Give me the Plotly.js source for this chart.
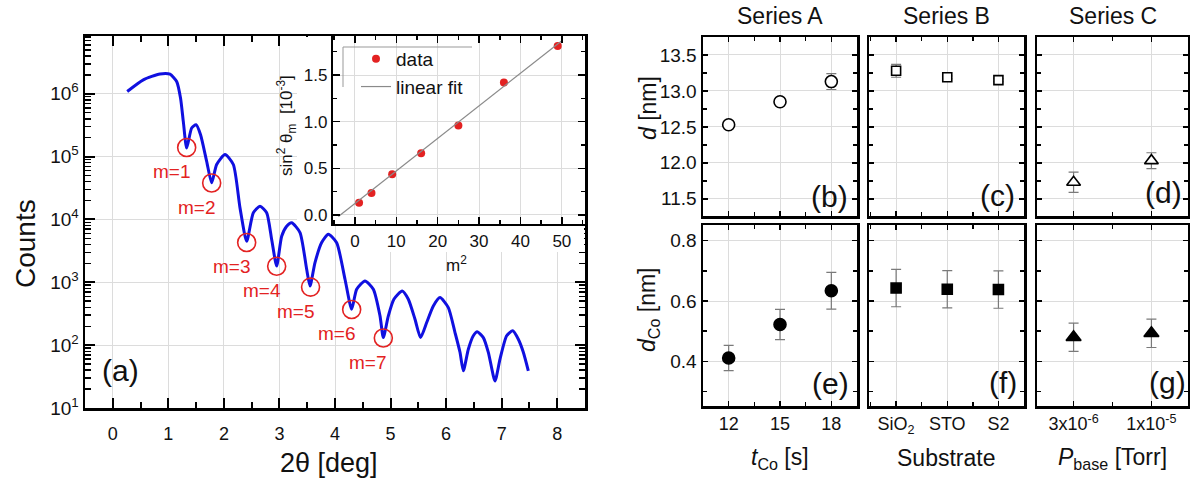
<!DOCTYPE html>
<html>
<head>
<meta charset="utf-8">
<script src="https://cdn.plot.ly/plotly-3.0.1.min.js"></script>
<style>html,body{margin:0;padding:0;background:#fff;}#chart{width:1190px;height:481px;}</style>
</head>
<body>
<div id="chart"></div>
<script>
// ---------- DATA ----------
// (a) reflectivity curve
const twoTheta = [0.26,0.55,0.85,1.03,1.15,1.22,1.27,1.33,1.42,1.50,1.58,1.69,1.78,1.87,2.02,2.17,2.29,2.41,2.53,2.65,2.77,2.86,2.95,3.04,3.13,3.22,3.37,3.49,3.55,3.64,3.76,3.88,4.03,4.18,4.30,4.39,4.54,4.69,4.81,4.87,4.96,5.06,5.21,5.32,5.44,5.54,5.65,5.77,5.89,6.04,6.16,6.25,6.31,6.40,6.49,6.56,6.67,6.76,6.88,6.97,7.09,7.20,7.30,7.39,7.48];
const counts = [1.09e6,1.67e6,2.07e6,2.05e6,1.57e6,8.5e5,3.6e5,1.37e5,2.86e5,3.22e5,2.23e5,8.4e4,3.83e4,7.5e4,1.08e5,7.5e4,1.53e4,4.5e3,1.28e4,1.63e4,1.28e4,4.8e3,1.82e3,5.4e3,7.8e3,8.9e3,6.2e3,1.61e3,873,2.06e3,4.3e3,5.8e3,4.26e3,1.12e3,373,774,1.05e3,774,292,132,292,537,728,537,259,132,229,421,571,396,159,77,39,86,141,163,132,77,27,60,141,169,124,77,39];
// fringe minima (circled)
const minLabels = ['m=1','m=2','m=3','m=4','m=5','m=6','m=7'];
const minTheta = [1.33,1.78,2.41,2.95,3.56,4.30,4.87];
const minCounts = [1.4e5,3.8e4,4.3e3,1.8e3,840,370,130];
// inset
const mSquared = [1,4,9,16,25,36,49];
const sin2Theta = [0.13,0.235,0.436,0.66,0.96,1.42,1.81];
const fitSlope = 0.0349, fitIntercept = 0.123, fitRange = [-4, 50];
// right panels
const tCo = [12,15,18];
const dA = [12.53,12.85,13.13], dAerr = [0.02,0.02,0.11];
const dCoA = [0.411,0.522,0.634], dCoAerr = [0.042,0.05,0.061];
const substrates = ['SiO<sub>2</sub>','STO','S2'];
const dB = [13.28,13.19,13.15], dBerr = [0.09,0.02,0.02];
const dCoB = [0.643,0.639,0.638], dCoBerr = [0.062,0.062,0.062];
const pBase = ['3x10<sup>-6</sup>','1x10<sup>-5</sup>'];
const dC = [11.73,12.03], dCerr = [0.14,0.11];
const dCoC = [0.480,0.493], dCoCerr = [0.047,0.047];
const decadeTicks = [1,2,3,4,5,6];

// ---------- LAYOUT HELPERS ----------
const W = 1190, H = 481;
const fx = p => p / W, fy = p => 1 - p / H;
const F = 'Liberation Sans, Arial, sans-serif';
const BLUE = '#1010e0', RED = '#e32222', GRID = '#dcdcdc';

function axis(o) {
  return Object.assign({
    showline: true, linecolor: '#000', linewidth: 2.5, mirror: 'ticks',
    ticks: 'inside', ticklen: 5, tickwidth: 1.5, tickcolor: '#000',
    showgrid: true, gridcolor: GRID, gridwidth: 1, zeroline: false,
    tickfont: {family: F, size: 18, color: '#111'}, fixedrange: true
  }, o);
}

const catIdx = arr => arr.map((_, i) => i);

const traces = [];
// main curve
traces.push({x: twoTheta, y: counts, type: 'scatter', mode: 'lines', xaxis: 'x', yaxis: 'y',
  line: {color: BLUE, width: 3, shape: 'spline', smoothing: 0.6}, showlegend: false, hoverinfo: 'skip'});
traces.push({x: minTheta, y: minCounts, type: 'scatter', mode: 'markers', xaxis: 'x', yaxis: 'y',
  marker: {symbol: 'circle-open', size: 18, color: RED, line: {width: 1.6, color: RED}}, showlegend: false});
// cover subplots (blank) to hide main grid under inset labels
traces.push({x: [], y: [], xaxis: 'x2', yaxis: 'y2', showlegend: false, type: 'scatter'});
traces.push({x: [], y: [], xaxis: 'x3', yaxis: 'y3', showlegend: false, type: 'scatter'});
// inset
traces.push({x: mSquared, y: sin2Theta, type: 'scatter', mode: 'markers', name: 'data', xaxis: 'x4', yaxis: 'y4',
  marker: {color: RED, size: 8}});
traces.push({x: fitRange, y: fitRange.map(v => fitIntercept + fitSlope * v), type: 'scatter', mode: 'lines',
  name: 'linear fit', xaxis: 'x4', yaxis: 'y4', line: {color: '#8a8a8a', width: 1.2}});

function pt(x, y, e, sym, size, fill, xa, ya) {
  traces.push({x: x, y: y, type: 'scatter', mode: 'markers', xaxis: xa, yaxis: ya, showlegend: false,
    error_y: {type: 'data', array: e, visible: true, color: '#7a7a7a', thickness: 1.2, width: 5},
    marker: {symbol: sym, size: size, color: fill, line: {color: '#000', width: 1.6}}});
}
pt(tCo, dA, dAerr, 'circle', 12, '#fff', 'x5', 'y5');
pt(catIdx(substrates), dB, dBerr, 'square', 9, '#fff', 'x6', 'y6');
pt(catIdx(pBase), dC, dCerr, 'triangle-up', 12, '#fff', 'x7', 'y7');
pt(tCo, dCoA, dCoAerr, 'circle', 12, '#000', 'x8', 'y8');
pt(catIdx(substrates), dCoB, dCoBerr, 'square', 10, '#000', 'x9', 'y9');
pt(catIdx(pBase), dCoC, dCoCerr, 'triangle-up', 13, '#000', 'x10', 'y10');

// panel geometry (pixels)
const colX = [[703, 857], [869, 1024], [1037, 1188]];
const rowTop = [37, 216], rowBot = [225, 406];

const layout = {
  width: W, height: H, margin: {l: 0, r: 0, t: 0, b: 0},
  paper_bgcolor: '#fff', plot_bgcolor: '#fff', showlegend: true,
  font: {family: F, color: '#111'},
  xaxis: axis({domain: [fx(85), fx(585)], range: [-0.5, 8.5], dtick: 1, tick0: 0, anchor: 'y',
    ticklen: 10, tickwidth: 2, ticklabelstandoff: 8, tickfont: {family: F, size: 18, color: '#111'},
    minor: {ticks: 'inside', ticklen: 6, tickwidth: 2, dtick: 0.5, tick0: 0, tickcolor: '#000', showgrid: false}}),
  yaxis: axis({domain: [fy(408), fy(36)], type: 'log', range: [1, 6.92], anchor: 'x',
    tickvals: decadeTicks.map(d => Math.pow(10, d)), ticktext: decadeTicks.map(d => '10<sup>' + d + '</sup>'),
    ticklen: 10, tickwidth: 2, tickfont: {family: F, size: 19, color: '#111'},
    minor: {ticks: 'inside', ticklen: 6, tickwidth: 1.5, dtick: 'D1', tickcolor: '#000', showgrid: false}}),
  // blank covers
  xaxis2: {domain: [fx(297), fx(342)], anchor: 'y2', visible: false, range: [0, 1], fixedrange: true},
  yaxis2: {domain: [fy(226), fy(37)], anchor: 'x2', visible: false, range: [0, 1], fixedrange: true},
  xaxis3: {domain: [fx(342), fx(584)], anchor: 'y3', visible: false, range: [0, 1], fixedrange: true},
  yaxis3: {domain: [fy(252), fy(224)], anchor: 'x3', visible: false, range: [0, 1], fixedrange: true},
  // inset
  xaxis4: axis({domain: [fx(333), fx(585)], range: [-5.3, 55.6], dtick: 10, tick0: 0, anchor: 'y4',
    ticklen: 7, linewidth: 2.2, tickfont: {family: F, size: 17, color: '#111'},
    minor: {ticks: 'inside', ticklen: 4, dtick: 5, tick0: 0, tickcolor: '#000', showgrid: false}}),
  yaxis4: axis({domain: [fy(224), fy(36)], range: [-0.097, 1.918], dtick: 0.5, tick0: 0, tickformat: '.1f', anchor: 'x4',
    ticklen: 7, linewidth: 2.2, tickfont: {family: F, size: 17, color: '#111'},
    minor: {ticks: 'inside', ticklen: 4, dtick: 0.25, tick0: 0, tickcolor: '#000', showgrid: false}}),
  legend: {x: fx(356), y: fy(40), xanchor: 'left', yanchor: 'top', bgcolor: 'rgba(0,0,0,0)', borderwidth: 0,
    font: {family: F, size: 19, color: '#111'}, tracegroupgap: 0, itemwidth: 30},
  shapes: [
    {type: 'line', xref: 'paper', yref: 'paper', x0: fx(343), x1: fx(472), y0: fy(47), y1: fy(47), line: {color: '#999', width: 1}, layer: 'above'},
    {type: 'line', xref: 'paper', yref: 'paper', x0: fx(343), x1: fx(343), y0: fy(47), y1: fy(87), line: {color: '#999', width: 1}, layer: 'above'}
  ],
  annotations: []
};

// right panels axes
const xSpecs = [
  {range: [10.5, 19.5], tickvals: tCo, ticktext: tCo.map(String), minor: 1.5, tick0: 12},
  {range: [-0.53, 2.5], tickvals: catIdx(substrates), ticktext: substrates, minor: 0.5, tick0: 0},
  {range: [-0.47, 1.47], tickvals: catIdx(pBase), ticktext: pBase, minor: 0.5, tick0: 0}
];
const ySpecs = [
  {range: [11.26, 13.75], dtick: 0.5, tick0: 11.5, minor: 0.25},
  {range: [0.252, 0.852], dtick: 0.2, tick0: 0.4, minor: 0.1}
];
let n = 5;
for (let r = 0; r < 2; r++) {
  for (let c = 0; c < 3; c++) {
    const xs = xSpecs[c], ys = ySpecs[r];
    layout['xaxis' + n] = axis({domain: [fx(colX[c][0]), fx(colX[c][1])], range: xs.range, anchor: 'y' + n,
      tickmode: 'array', tickvals: xs.tickvals, ticktext: xs.ticktext, showticklabels: r === 1,
      tickfont: {family: F, size: 18, color: '#111'},
      minor: {ticks: 'inside', ticklen: 4, dtick: xs.minor, tick0: xs.tick0, tickcolor: '#000', tickwidth: 1.5, showgrid: false}});
    layout['yaxis' + n] = axis({domain: [fy(r === 0 ? rowTop[1] : rowBot[1]), fy(r === 0 ? rowTop[0] : rowBot[0])],
      range: ys.range, dtick: ys.dtick, tick0: ys.tick0, tickformat: '.1f', anchor: 'x' + n, showticklabels: c === 0,
      tickfont: {family: F, size: 19, color: '#111'},
      minor: {ticks: 'inside', ticklen: 4, dtick: ys.minor, tick0: ys.tick0, tickcolor: '#000', tickwidth: 1.5, showgrid: false}});
    n++;
  }
}

function ann(text, x, y, size, extra) {
  layout.annotations.push(Object.assign({text: text, x: fx(x), y: fy(y), xref: 'paper', yref: 'paper',
    xanchor: 'center', yanchor: 'middle', showarrow: false, font: {family: F, size: size, color: '#111'}}, extra || {}));
}
ann('Counts', 25, 244, 28, {textangle: -90});
ann('2θ [deg]', 329, 463, 27);
ann('(a)', 120, 370, 30);
ann('sin<sup>2</sup> θ<sub>m</sub>  [10<sup>-3</sup>]', 286, 126, 17, {textangle: -90});
ann('m<sup>2</sup>', 456, 264, 17);
minLabels.forEach((t, i) => {
  layout.annotations.push({text: t, x: minTheta[i], y: Math.log10(minCounts[i]), xref: 'x', yref: 'y',
    xshift: -15, yshift: -24, showarrow: false, xanchor: 'center', yanchor: 'middle',
    font: {family: F, size: 19, color: RED}});
});
['Series A', 'Series B', 'Series C'].forEach((t, i) => ann(t, (colX[i][0] + colX[i][1]) / 2, 16, 23));
ann('<i>d</i> [nm]', 648, 108, 23, {textangle: -90});
ann('<i>d</i><sub>Co</sub> [nm]', 648, 310, 23, {textangle: -90});
ann('<i>t</i><sub>Co</sub> [s]', 780, 458, 23);
ann('Substrate', 946, 458, 23);
ann('<i>P</i><sub>base</sub> [Torr]', 1112, 458, 23);
[['(b)', 829, 197], ['(c)', 997, 195], ['(d)', 1163, 193], ['(e)', 830, 383], ['(f)', 1003, 382], ['(g)', 1167, 382]]
  .forEach(a => ann(a[0], a[1], a[2], 30));

Plotly.newPlot('chart', traces, layout, {staticPlot: true, displayModeBar: false});
</script>
</body>
</html>
